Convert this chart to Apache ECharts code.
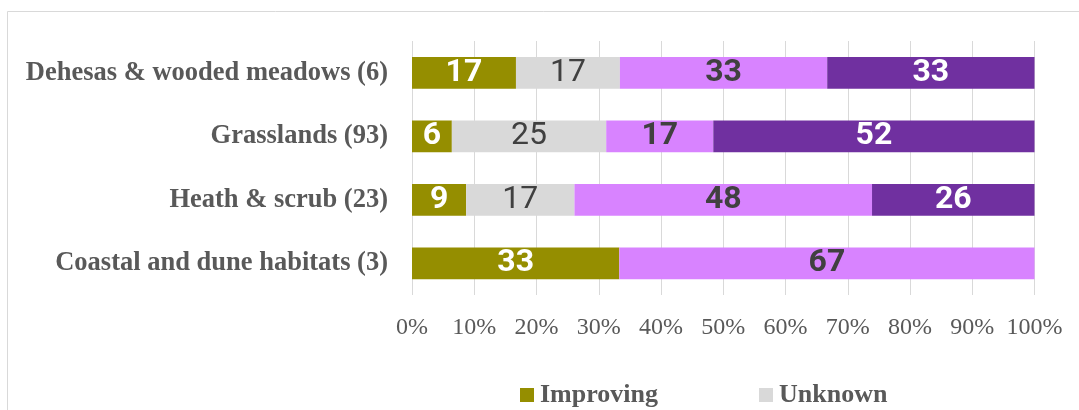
<!DOCTYPE html>
<html>
<head>
<meta charset="utf-8">
<script src="https://cdn.jsdelivr.net/npm/echarts@6/dist/echarts.min.js"></script>
<style>
html,body{margin:0;padding:0;background:#fff;}
#chart{width:1079px;height:410px;}
</style>
</head>
<body>
<div id="chart"></div>
<script>
// Categories (top to bottom)
const categories = [
  'Dehesas & wooded meadows (6)',
  'Grasslands (93)',
  'Heath & scrub (23)',
  'Coastal and dune habitats (3)'
];
const improving     = [16.7, 6.4, 8.7, 33.3];
const unknown       = [16.7, 24.8, 17.4, 0];
const stable        = [33.3, 17.2, 47.8, 66.7];
const deteriorating = [33.3, 51.6, 26.1, 0];
// Axis tick labels
const xTicks = ['0%','10%','20%','30%','40%','50%','60%','70%','80%','90%','100%'];
const legendNames = ['Improving', 'Unknown'];

const chart = echarts.init(document.getElementById('chart'));

function lbl(color, weight) {
  return {
    show: true,
    position: 'inside',
    color: color,
    fontFamily: 'Roboto, "Open Sans", sans-serif',
    fontWeight: weight,
    fontSize: 32,
    formatter: p => (p.value > 0 ? String(Math.round(p.value)) : '')
  };
}

const option = {
  animation: false,
  backgroundColor: '#ffffff',
  graphic: [{
    type: 'rect',
    shape: { x: 7.5, y: 11.5, width: 1200, height: 600 },
    style: { fill: 'none', stroke: '#d9d9d9', lineWidth: 1 },
    silent: true,
    z: -1
  }],
  grid: { left: 412, right: 44.5, top: 41, bottom: 115, containLabel: false },
  legend: {
    data: legendNames,
    left: 515,
    top: 377,
    itemWidth: 14,
    itemHeight: 14,
    itemGap: 101,
    icon: 'rect',
    textStyle: {
      fontFamily: '"Liberation Serif", "Times New Roman", serif',
      fontWeight: 'bold',
      fontSize: 26,
      color: '#595959',
      padding: [0, 0, 0, 1]
    }
  },
  xAxis: {
    type: 'value',
    min: 0,
    max: 100,
    interval: 10,
    axisLine: { show: false },
    axisTick: { show: false },
    splitLine: { show: true, lineStyle: { color: '#d9d9d9', width: 1 } },
    axisLabel: {
      margin: 21,
      fontFamily: '"Liberation Serif", "Times New Roman", serif',
      fontSize: 24,
      color: '#595959',
      formatter: v => xTicks[Math.round(v / 10)]
    }
  },
  yAxis: {
    type: 'category',
    data: categories,
    inverse: true,
    axisLine: { show: false },
    axisTick: { show: false },
    axisLabel: {
      margin: 24,
      fontFamily: '"Liberation Serif", "Times New Roman", serif',
      fontWeight: 'bold',
      fontSize: 26.5,
      color: '#595959'
    }
  },
  series: [
    { name: 'Improving', type: 'bar', stack: 'all', barCategoryGap: '50%',
      data: improving, itemStyle: { color: '#958e00' }, label: lbl('#ffffff', 'bold') },
    { name: 'Unknown', type: 'bar', stack: 'all', barCategoryGap: '50%',
      data: unknown, itemStyle: { color: '#d9d9d9' }, label: lbl('#404040', 'normal') },
    { name: 'Stable', type: 'bar', stack: 'all', barCategoryGap: '50%',
      data: stable, itemStyle: { color: '#d883ff' }, label: lbl('#404040', 'bold') },
    { name: 'Deteriorating', type: 'bar', stack: 'all', barCategoryGap: '50%',
      data: deteriorating, itemStyle: { color: '#7030a0' }, label: lbl('#ffffff', 'bold') }
  ]
};
chart.setOption(option);
</script>
</body>
</html>
